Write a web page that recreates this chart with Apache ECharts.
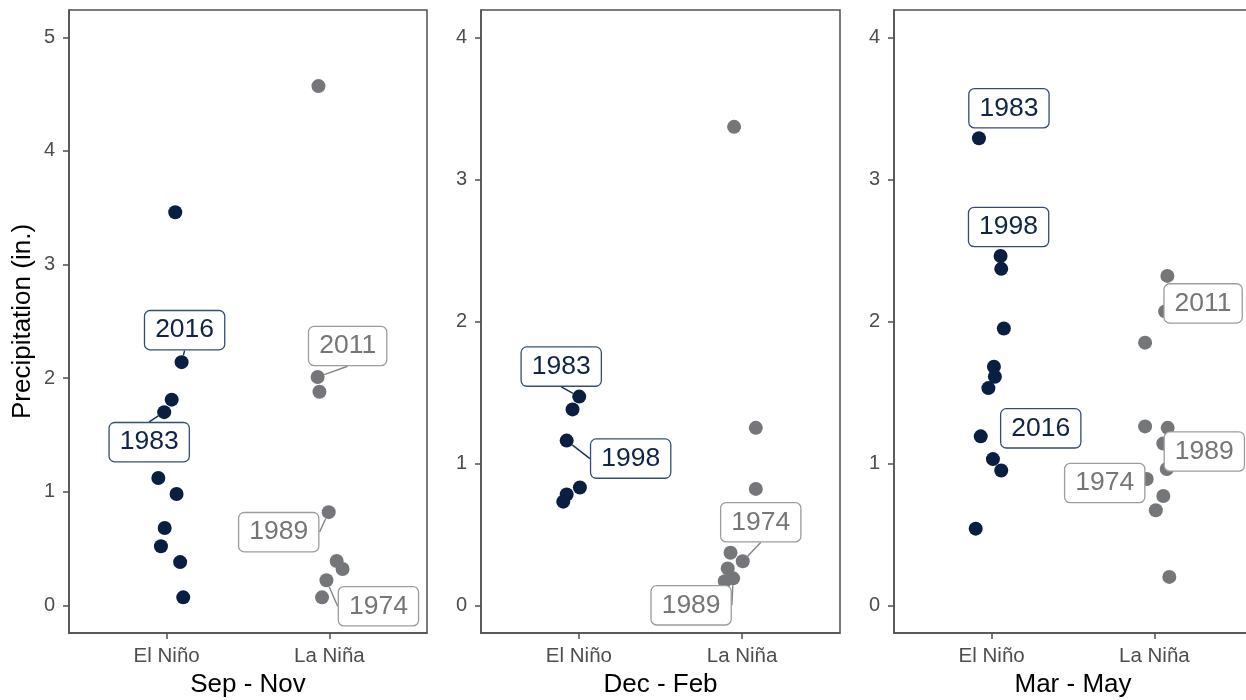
<!DOCTYPE html>
<html>
<head>
<meta charset="utf-8">
<script src="https://cdn.jsdelivr.net/npm/echarts@6/dist/echarts.min.js"></script>
<style>
  html, body { margin: 0; padding: 0; background: #fff; overflow: hidden; }
  #chart { width: 1258px; height: 700px; }
</style>
</head>
<body>
<div id="chart"></div>
<script>
// Seasons (one panel each) and ENSO phases (x categories)
const seasons = ['Sep - Nov', 'Dec - Feb', 'Mar - May'];
const phases = ['El Niño', 'La Niña'];
const yTickValues = [[0, 1, 2, 3, 4, 5], [0, 1, 2, 3, 4], [0, 1, 2, 3, 4]];

// Sep - Nov
const sonNinoPrecip = [3.46, 2.14, 1.81, 1.70, 1.12, 0.98, 0.68, 0.52, 0.38, 0.07];
const sonNinoJitter = [0.053, 0.092, 0.031, -0.015, -0.051, 0.061, -0.012, -0.035, 0.083, 0.102];
const sonNinoYears  = ['', '2016', '', '1983', '', '', '', '', '', ''];
const sonNinaPrecip = [4.57, 2.01, 1.88, 0.82, 0.39, 0.32, 0.22, 0.07];
const sonNinaJitter = [-0.067, -0.072, -0.061, -0.004, 0.045, 0.081, -0.018, -0.045];
const sonNinaYears  = ['', '2011', '', '1989', '', '', '1974', ''];

// Dec - Feb
const djfNinoPrecip = [1.47, 1.38, 1.16, 0.83, 0.78, 0.73];
const djfNinoJitter = [0.002, -0.039, -0.075, 0.006, -0.075, -0.096];
const djfNinoYears  = ['1983', '', '1998', '', '', ''];
const djfNinaPrecip = [3.37, 1.25, 0.82, 0.37, 0.31, 0.26, 0.19, 0.17];
const djfNinaJitter = [-0.049, 0.084, 0.084, -0.071, 0.004, -0.088, -0.055, -0.106];
const djfNinaYears  = ['', '', '', '', '1974', '', '1989', ''];

// Mar - May
const mamNinoPrecip = [3.29, 2.46, 2.37, 1.95, 1.68, 1.61, 1.53, 1.19, 1.03, 0.95, 0.54];
const mamNinoJitter = [-0.078, 0.055, 0.059, 0.075, 0.014, 0.020, -0.020, -0.067, 0.008, 0.059, -0.098];
const mamNinoYears  = ['1983', '1998', '', '', '', '', '', '2016', '', '', ''];
const mamNinaPrecip = [2.32, 2.07, 1.85, 1.26, 1.25, 1.14, 0.96, 0.89, 0.77, 0.67, 0.20];
const mamNinaJitter = [0.080, 0.066, -0.057, -0.057, 0.082, 0.055, 0.076, -0.047, 0.055, 0.009, 0.092];
const mamNinaYears  = ['', '2011', '', '', '', '1989', '', '1974', '', '', ''];

const panels = [
  { nino: [sonNinoPrecip, sonNinoJitter, sonNinoYears], nina: [sonNinaPrecip, sonNinaJitter, sonNinaYears] },
  { nino: [djfNinoPrecip, djfNinoJitter, djfNinoYears], nina: [djfNinaPrecip, djfNinaJitter, djfNinaYears] },
  { nino: [mamNinoPrecip, mamNinoJitter, mamNinoYears], nina: [mamNinaPrecip, mamNinaJitter, mamNinaYears] }
];

// ---- layout & styling ----
const FONT = "'Liberation Sans', Arial, sans-serif";
const NAVY = '#0a1e42';
const GREY = '#75767a';
const AXIS = '#505050';
// the last panel runs slightly past the visible window on the right
const gridBoxes = [
  { left: 69,  top: 10, width: 358, height: 623 },
  { left: 481, top: 10, width: 359, height: 623 },
  { left: 894, top: 10, width: 358, height: 623 }
];
const yLimits = [[-0.244, 5.24], [-0.195, 4.193], [-0.195, 4.193]];

// pixel offsets of each year label from its point, per series
const labelNudge = [
  { '2016': [3, -32],   '1983': [-15, 30] },
  { '2011': [30, -31],  '1989': [-50, 20],  '1974': [52, 26] },
  { '1983': [-18, -30], '1998': [64, 18] },
  { '1974': [18, -39],  '1989': [-42, 27] },
  { '1983': [30, -30],  '1998': [8, -29],   '2016': [60, -8] },
  { '2011': [38, -8],   '1989': [41, 8],    '1974': [-42, 4] }
];

function labelStyle(textColor, borderColor) {
  return {
    position: 'inside',
    formatter: '{b}',
    fontFamily: FONT,
    fontSize: 26.5,
    lineHeight: 28,
    color: textColor,
    opacity: 1,
    backgroundColor: '#ffffff',
    borderColor: borderColor,
    borderWidth: 1.3,
    borderRadius: 5,
    padding: [5, 10, 5, 10]
  };
}

function buildPoints(cols, slot) {
  const [precip, jitter, years] = cols;
  return precip.map((v, i) => {
    const item = { value: [slot + jitter[i], v], name: years[i] };
    item.label = { show: years[i] !== '' };
    return item;
  });
}

const grids = [], xAxes = [], yAxes = [], series = [];
panels.forEach((p, k) => {
  grids.push(Object.assign({
    show: true, borderColor: AXIS, borderWidth: 1.5, backgroundColor: 'transparent',
    containLabel: false, outerBoundsMode: 'none'
  }, gridBoxes[k]));

  xAxes.push({
    gridIndex: k, type: 'value', min: 0.4, max: 2.6,
    name: seasons[k], nameLocation: 'middle', nameGap: 39,
    nameTextStyle: { fontFamily: FONT, fontSize: 26, color: '#000' },
    axisLine: { show: true, onZero: false, lineStyle: { color: AXIS, width: 1.5 } },
    axisTick: { show: true, length: 6, customValues: [1, 2], lineStyle: { color: AXIS, width: 1.5 } },
    axisLabel: {
      customValues: [1, 2], margin: 13, fontFamily: FONT, fontSize: 20.5, color: '#4d4d4d',
      formatter: v => phases[Math.round(v) - 1]
    },
    splitLine: { show: false }
  });

  yAxes.push({
    gridIndex: k, type: 'value', min: yLimits[k][0], max: yLimits[k][1],
    name: k === 0 ? 'Precipitation (in.)' : '', nameLocation: 'middle', nameGap: 33,
    nameTextStyle: { fontFamily: FONT, fontSize: 26, color: '#000' },
    axisLine: { show: true, onZero: false, lineStyle: { color: AXIS, width: 1.5 } },
    axisTick: { show: true, length: 6, customValues: yTickValues[k], lineStyle: { color: AXIS, width: 1.5 } },
    axisLabel: {
      customValues: yTickValues[k], margin: 14, fontFamily: FONT, fontSize: 20, color: '#4d4d4d'
    },
    splitLine: { show: false }
  });

  const common = {
    type: 'scatter', xAxisIndex: k, yAxisIndex: k,
    symbol: 'circle', symbolSize: 14,
    labelLayout: params => {
      const d = labelNudge[params.seriesIndex][params.text];
      return d ? { dx: d[0], dy: d[1], hideOverlap: false } : {};
    },
    emphasis: { disabled: true },
    animation: false
  };
  series.push(Object.assign({}, common, {
    name: phases[0],
    itemStyle: { color: NAVY, opacity: 1 },
    label: labelStyle('#0f2449', '#344c74'),
    labelLine: { show: k < 2, lineStyle: { width: 1.4, color: '#1a3056', opacity: 1 } },
    data: buildPoints(p.nino, 1)
  }));
  series.push(Object.assign({}, common, {
    name: phases[1],
    itemStyle: { color: GREY, opacity: 1 },
    label: labelStyle('#767676', '#9c9c9c'),
    labelLine: { show: k < 2, lineStyle: { width: 1.4, color: '#858585', opacity: 1 } },
    data: buildPoints(p.nina, 2)
  }));
});

const chart = echarts.init(document.getElementById('chart'), null, { renderer: 'canvas' });
chart.setOption({
  backgroundColor: '#ffffff',
  animation: false,
  grid: grids,
  xAxis: xAxes,
  yAxis: yAxes,
  series: series
});
</script>
</body>
</html>
